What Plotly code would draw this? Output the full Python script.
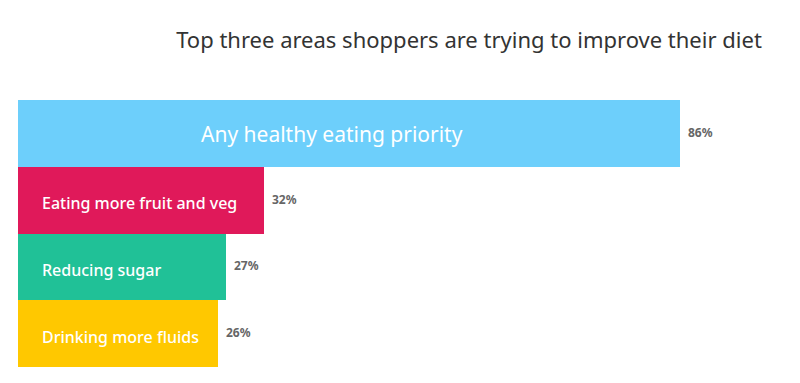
import plotly.graph_objects as go

categories = ["Any healthy eating priority", "Eating more fruit and veg", "Reducing sugar", "Drinking more fluids"]
values = [86, 32, 27, 26]
colors = ["#6DCFFB", "#E0195A", "#20C197", "#FFC800"]
value_labels = ["86%", "32%", "27%", "26%"]

FONT = "Noto Sans"
OFF = 8  # page body margin compensation

fig = go.Figure()
fig.add_trace(go.Bar(
    y=categories, x=values, orientation="h",
    marker=dict(color=colors, line=dict(width=0)),
    hoverinfo="skip",
))

annotations = []
for i, (c, v, lab) in enumerate(zip(categories, values, value_labels)):
    if i == 0:
        annotations.append(dict(x=v / 2, y=c, xref="x", yref="y", text=c, showarrow=False,
                                xanchor="center", xshift=-17, yshift=-1,
                                font=dict(family=FONT, size=21, color="white")))
    else:
        annotations.append(dict(x=0, y=c, xref="x", yref="y", text=c, showarrow=False,
                                xanchor="left", xshift=22, yshift=-3,
                                font=dict(family=FONT, size=16, color="white", weight=500)))
    annotations.append(dict(x=v, y=c, xref="x", yref="y", text="<b>" + lab + "</b>", showarrow=False,
                            xanchor="left", xshift=6, yshift=1,
                            font=dict(family=FONT, size=12, color="#666666")))

fig.update_layout(
    width=800, height=383,
    margin=dict(l=18 - OFF, r=12 + OFF, t=100 - OFF, b=16 + OFF),
    paper_bgcolor="white", plot_bgcolor="white",
    bargap=0,
    showlegend=False,
    xaxis=dict(range=[0, 100], visible=False, fixedrange=True),
    yaxis=dict(autorange="reversed", visible=False, fixedrange=True),
    title=dict(text="Top three areas shoppers are trying to improve their diet",
               x=(469 - OFF) / 800, xref="container", xanchor="center",
               y=1 - (40 - OFF) / 383, yref="container", yanchor="middle",
               font=dict(family=FONT, size=22, color="#333333")),
    annotations=annotations,
)
fig.write_html("out.html")
